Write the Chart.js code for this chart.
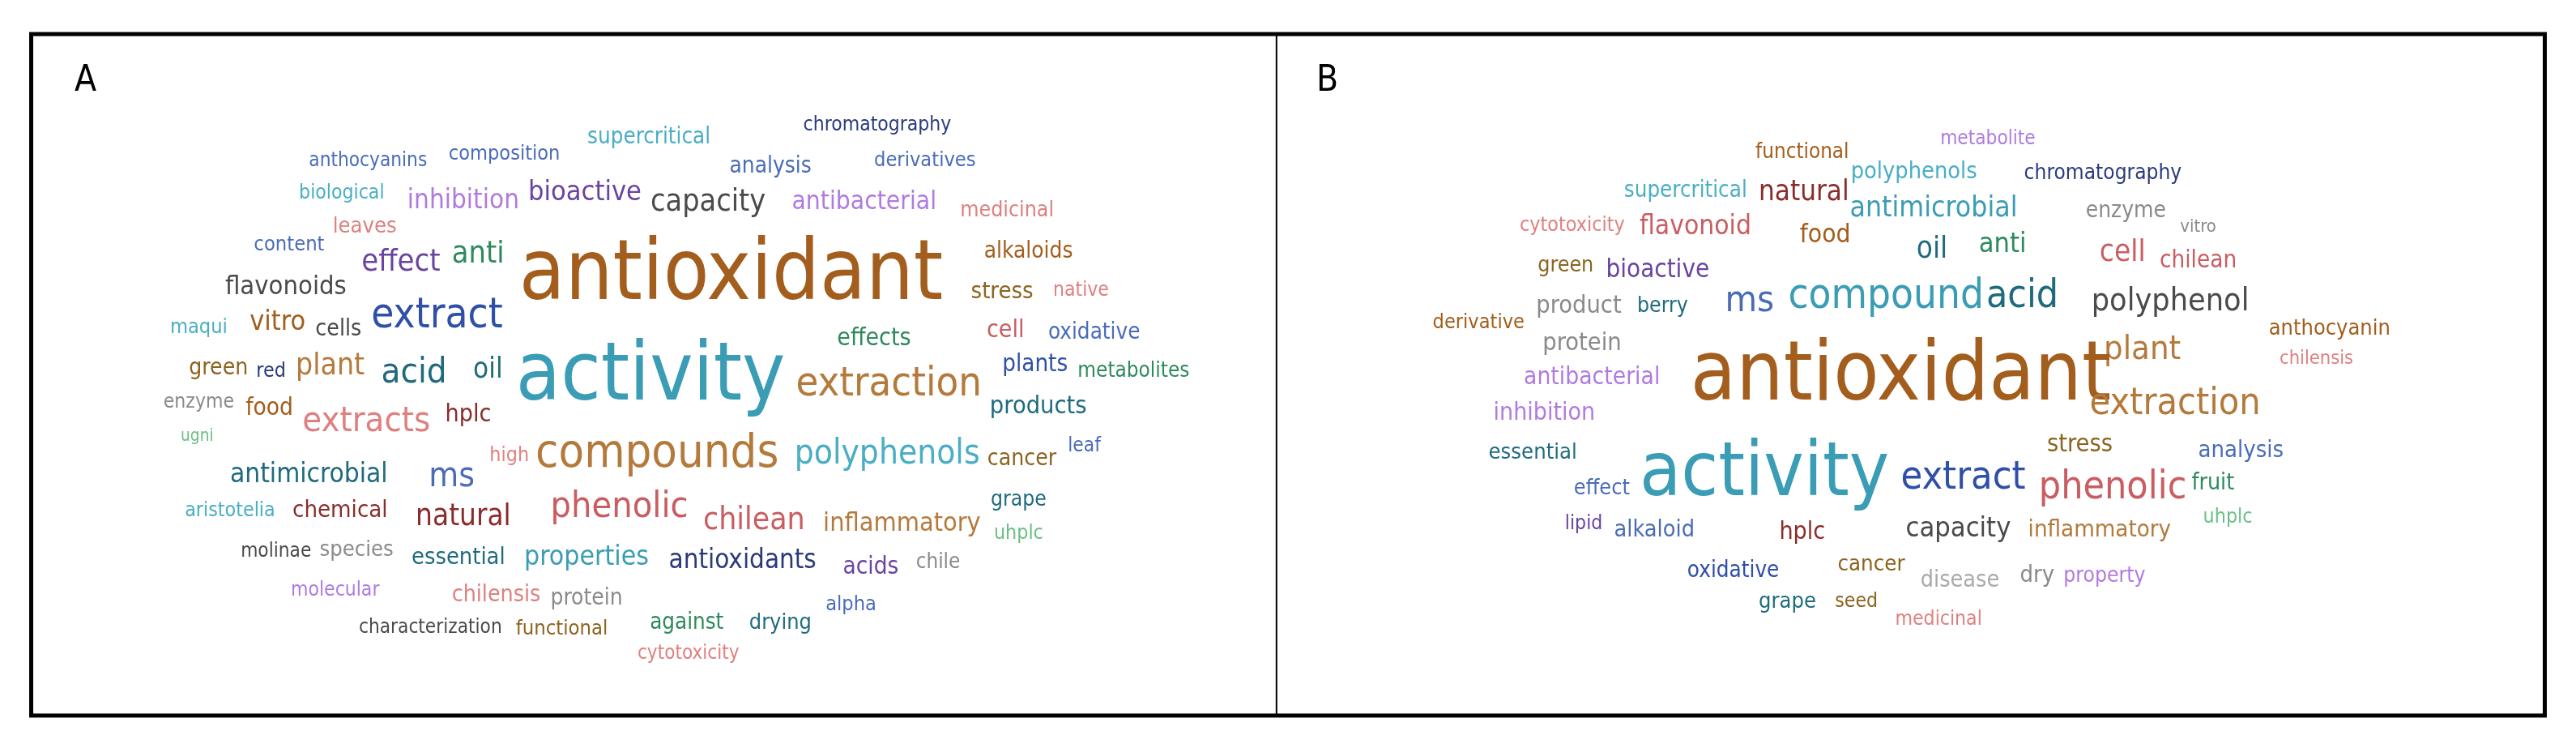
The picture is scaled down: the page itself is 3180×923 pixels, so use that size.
<!DOCTYPE html>
<html>
<head>
<meta charset="utf-8">
<script src="https://cdn.jsdelivr.net/npm/chart.js@4"></script>
<style>
  html, body { margin: 0; padding: 0; background: #fff; }
  #wrap { width: 3180px; height: 923px; }
</style>
</head>
<body>
<div id="wrap"><canvas id="chart"></canvas></div>
<script>
// word cloud data, in reference picture units (1568 x 461 view)
const wordsA = ["chromatography","supercritical","anthocyanins","composition","analysis","derivatives","biological","inhibition","bioactive","capacity","antibacterial","medicinal","leaves","content","effect","anti","antioxidant","alkaloids","flavonoids","stress","native","maqui","vitro","cells","extract","effects","cell","oxidative","activity","green","red","plant","acid","oil","extraction","plants","metabolites","enzyme","food","extracts","hplc","products","ugni","high","compounds","polyphenols","cancer","leaf","antimicrobial","ms","aristotelia","chemical","natural","phenolic","chilean","inflammatory","grape","uhplc","molinae","species","essential","properties","antioxidants","acids","chile","molecular","chilensis","protein","alpha","characterization","functional","against","drying","cytotoxicity"];
const xA = [534,395,224,307,469,563,208,282,356,431,526,613,222,176,244,291,445,626,174,610,658,121,169,206,266,532,612,666,396,133,165,201,252,297,541,630,690,121,164,223,285,632,120,310,400,540,622,660,188,275,140,207,282,377,459,549,620,620,168,217,279,357,452,530,571,204,302,357,518,262,342,418,475,419];
const yA = [74,82,96,92,100,96,116,121,116,122,122,127,137,148,159,154,168,152,174,177,176,199,196,200,192,206,201,202,230,224,226,223,227,225,234,222,226,245,249,257,253,248,266,278,277,277,280,272,290,291,312,312,316,310,318,320,305,326,337,336,341,341,343,347,344,361,364,366,370,384,385,381,381,400];
const wA = [90,75,72,68,50,62,52,68,69,70,88,57,39,43,48,32,258,54,74,38,34,35,34,28,80,45,23,56,164,36,18,42,40,18,113,40,68,43,29,78,28,59,20,24,148,113,42,20,96,28,55,58,58,84,62,96,34,30,43,45,57,76,90,34,27,54,54,44,31,87,56,45,38,62];
const colA = ["navy","cyan","slate","slate","slate","slate","cyan","lavender","violet","dgrey","lavender","salmon","salmon","slate","violet","green","brown","brown","dgrey","olive","salmon","cyan","brown","dgrey","dblue","green","rose","slate","teal","olive","navy","tan","dteal","dteal","tan","dblue","green","grey","brown","salmon","dred","dteal","lgreen","salmon","tan","cyan","olive","slate","dteal","slate","cyan","dred","dred","rose","rose","tan","dteal","lgreen","dgrey","grey","dteal","teal","navy","violet","grey","lavender","salmon","grey","slate","dgrey","olive","green","dteal","salmon"];

const wordsB = ["metabolite","functional","supercritical","polyphenols","chromatography","natural","cytotoxicity","flavonoid","antimicrobial","enzyme","vitro","food","oil","anti","cell","chilean","green","bioactive","ms","compound","acid","polyphenol","anthocyanin","derivative","product","berry","protein","plant","chilensis","antioxidant","antibacterial","extraction","inhibition","stress","essential","analysis","activity","extract","phenolic","fruit","effect","lipid","alkaloid","hplc","capacity","inflammatory","uhplc","oxidative","cancer","disease","dry","property","grape","seed","medicinal"];
const xB = [1210,1097,1026,1165,1280,1098,957,1032,1177,1294,1338,1111,1176,1219,1292,1338,953,1009,1065,1148,1231,1321,1418,900,961,1012,963,1304,1410,1157,969,1324,940,1266,933,1364,1074,1195,1286,1347,975,964,1007,1097,1192,1278,1356,1055,1139,1193,1240,1281,1088,1130,1180];
const yB = [83,91,115,103,104,116,136,137,126,127,137,142,151,148,153,158,161,164,183,180,180,183,200,196,186,186,209,213,218,230,230,246,252,271,276,275,290,292,298,295,298,320,324,325,323,324,316,349,345,355,352,352,368,368,379];
const wB = [58,57,75,77,96,55,64,68,102,49,22,31,19,29,28,47,34,63,30,119,44,96,74,56,52,31,48,47,45,256,83,104,62,40,54,52,152,76,90,26,34,23,49,28,64,87,30,56,41,48,21,50,35,26,53];
const colB = ["lavender","brown","cyan","cyan","navy","dred","salmon","rose","teal","grey","grey","brown","dteal","green","rose","rose","olive","violet","slate","teal","dteal","dgrey","brown","brown","grey","dteal","grey","tan","salmon","brown","lavender","tan","lavender","olive","dteal","slate","teal","dblue","rose","green","slate","violet","slate","dred","dgrey","tan","lgreen","dblue","olive","lgrey","grey","lavender","dteal","olive","salmon"];

const palette = {
  brown: "#a35d1c", tan: "#b47a3c", olive: "#8c6420", teal: "#3a9db5", cyan: "#4aaec4",
  dteal: "#1f6b7e", dblue: "#2f4fa8", navy: "#2b3a7a", slate: "#4a6cb8", violet: "#6a44a0",
  purple: "#7b48c0", lavender: "#b07be0", rose: "#c95d62", salmon: "#df8080", dred: "#8a2c2c",
  green: "#2e8a5c", lgreen: "#6cbf86", grey: "#8a8a8a", lgrey: "#aaaaaa", dgrey: "#4a4a4a"
};

const SX = 3180 / 1568;
const FONT = "'DejaVu Sans Condensed', 'Liberation Sans Narrow', sans-serif";

function points(xs, ys) { return xs.map((x, i) => ({ x: x, y: ys[i] + 3 })); }

const cloudPlugin = {
  id: "cloud",
  afterDatasetsDraw(chart) {
    const ctx = chart.ctx;
    const xs = chart.scales.x, ys = chart.scales.y;
    ctx.save();
    // frame and divider
    ctx.strokeStyle = "#000";
    ctx.lineWidth = 5;
    ctx.strokeRect(xs.getPixelForValue(19), ys.getPixelForValue(21), xs.getPixelForValue(1549) - xs.getPixelForValue(19), ys.getPixelForValue(441) - ys.getPixelForValue(21));
    ctx.lineWidth = 2;
    ctx.beginPath();
    ctx.moveTo(xs.getPixelForValue(777), ys.getPixelForValue(21));
    ctx.lineTo(xs.getPixelForValue(777), ys.getPixelForValue(441));
    ctx.stroke();
    ctx.fillStyle = "#000";
    ctx.textAlign = "center";
    ctx.textBaseline = "middle";
    ctx.font = "44px " + FONT;
    ctx.fillText("A", xs.getPixelForValue(52), ys.getPixelForValue(50));
    ctx.fillText("B", xs.getPixelForValue(808), ys.getPixelForValue(50));

    const sets = [[wordsA, wA, colA], [wordsB, wB, colB]];
    sets.forEach((s, di) => {
      const meta = chart.getDatasetMeta(di);
      meta.data.forEach((pt, i) => {
        ctx.font = "100px " + FONT;
        const m = ctx.measureText(s[0][i]).width;
        const size = 100 * s[1][i] * SX / m;
        ctx.font = size.toFixed(1) + "px " + FONT;
        ctx.fillStyle = palette[s[2][i]];
        ctx.fillText(s[0][i], pt.x, pt.y);
      });
    });
    ctx.restore();
  }
};

new Chart(document.getElementById("chart"), {
  type: "scatter",
  data: {
    datasets: [
      { label: "A", data: points(xA, yA), pointRadius: 0 },
      { label: "B", data: points(xB, yB), pointRadius: 0 }
    ]
  },
  options: {
    responsive: true,
    maintainAspectRatio: false,
    animation: false,
    layout: { padding: 0 },
    plugins: { legend: { display: false }, tooltip: { enabled: false } },
    scales: {
      x: { type: "linear", min: 0, max: 1568, display: false },
      y: { type: "linear", min: 0, max: 461, reverse: true, display: false }
    }
  },
  plugins: [cloudPlugin]
});
</script>
</body>
</html>
